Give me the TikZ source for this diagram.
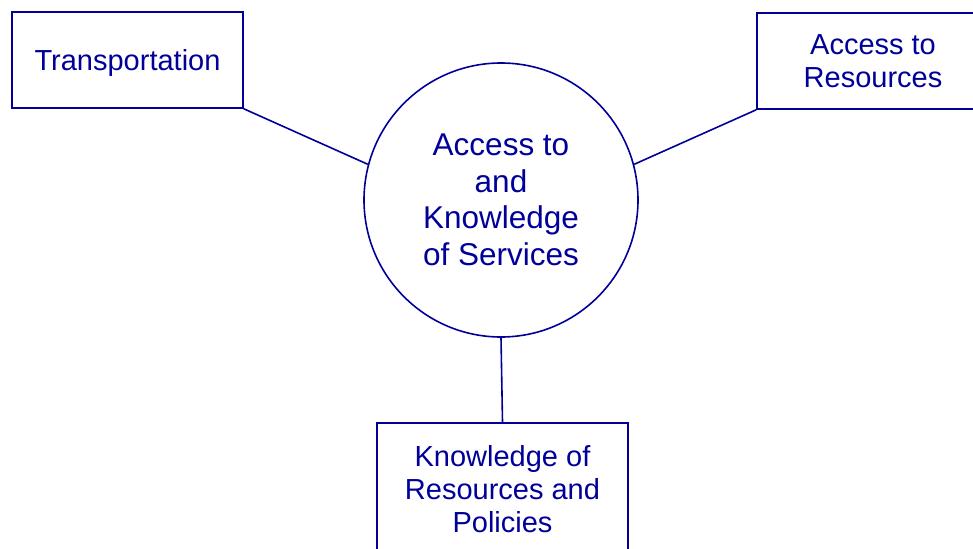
\documentclass[tikz,border=0pt]{standalone}
\usepackage{fontspec}
\setmainfont{Liberation Sans}
\definecolor{navyline}{RGB}{0,0,153}

\begin{document}
\begin{tikzpicture}[x=1pt,y=-1pt,-,thick,line width=1.6pt,draw=navyline,text=navyline,
    box node/.style={rectangle,draw,align=center,inner sep=0pt,font=\fontsize{29}{33}\selectfont},
    hub node/.style={circle,draw,align=center,inner sep=0pt,minimum size=274pt,font=\fontsize{31.5}{36.5}\selectfont}]

            \useasboundingbox (0,0) rectangle (973,548);
            \clip (0,0) rectangle (973,548);

            \node[hub node] (hub) at (501,200) {Access to\\and\\Knowledge\\of Services};
            \node[box node, minimum width=231pt, minimum height=96pt, text depth=0pt] (trans) at (127.5,60) {Transportation};
            \node[box node, minimum width=232pt, minimum height=96pt] (res) at (873,61) {Access to\\Resources};
            \node[box node, minimum width=251pt, minimum height=132pt] (know) at (502.5,489) {Knowledge of\\Resources and\\Policies};

            \draw[-] (trans.south east) to (hub.165);
            \draw[-] (res.south west) to (hub.15);
            \draw[-] (hub.south) to (know.north);

        \end{tikzpicture}
\end{document}
